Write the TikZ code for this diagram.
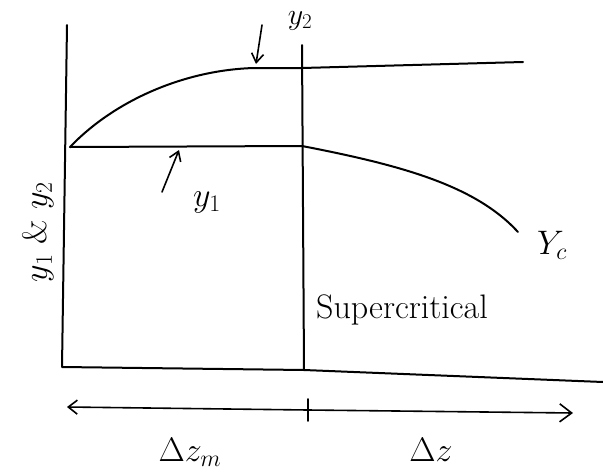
\RequirePackage{fix-cm}
\documentclass[tikz,border=0pt]{standalone}
\usetikzlibrary{arrows.meta}
\begin{document}
\begin{tikzpicture}[x=1pt,y=-1pt,
  ink/.style={line width=2pt,line cap=round,line join=round,black},
  thin ink/.style={line width=1.6pt,line cap=round,black},
  lbl/.style={font=\fontsize{34}{38}\selectfont,inner sep=0pt},
  slbl/.style={font=\fontsize{34}{38}\selectfont,inner sep=0pt},
  barb/.style={-{Straight Barb[length=9pt,width=12pt,line width=1.6pt]}}]
\useasboundingbox (0,0) rectangle (603,472);
% frame coordinates
\coordinate (lt) at (67,25);
\coordinate (lb) at (62,367);
\coordinate (mt) at (302,45);
\coordinate (mb) at (304,370);
\coordinate (br) at (603,382);
\coordinate (a) at (70,147);
\coordinate (b) at (254,68);
\coordinate (c) at (302,68);
\coordinate (d) at (523,62);
\coordinate (e) at (302,146);
\coordinate (f) at (518,232);
% axes
\draw[ink] (lt) -- (lb) -- (mb) -- (br);
\draw[ink] (mt) -- (mb);
% upper water surface y2
\draw[ink] (a) .. controls (115,100) and (185,70) .. (b) -- (c) -- (d);
% y1 line and falling surface
\draw[ink] (a) -- (e);
\draw[ink] (e) .. controls (400,165) and (475,185) .. (f);
% labels and pointer arrows
\node[lbl,font=\fontsize{30}{34}\selectfont,anchor=north] (y2) at (300,11) {$y_2$};
\coordinate (y2s) at (262,25);
\coordinate (y2e) at (256,64);
\draw[thin ink,barb] (y2s) -- (y2e);
\node[lbl] (y1) at (207,202) {$y_1$};
\coordinate (y1s) at (162,192);
\coordinate (y1e) at (179,150);
\draw[thin ink,barb] (y1s) -- (y1e);
\node[lbl] (yc) at (552,245) {$Y_c$};
\node[lbl,rotate=90] (ax) at (38,232) {$y_1$ \& $y_2$};
\node[slbl,anchor=west] (sc) at (316,310) {Supercritical};
% dimension arrows
\coordinate (p0) at (67,407);
\coordinate (p1) at (308,410);
\coordinate (p2) at (573,413);
\coordinate (t2) at (308,399);
\coordinate (t3) at (308,421);
\draw[thin ink,{Straight Barb[length=9pt,width=14pt,line width=1.6pt]}-] (p0) -- (p1);
\draw[thin ink,-{Straight Barb[length=12pt,width=18pt,line width=1.6pt]}] (p1) -- (p2);
\draw[thin ink] (t2) -- (t3);
\node[lbl] (dzm) at (190,452) {$\Delta z_m$};
\node[lbl] (dz) at (431,450) {$\Delta z$};
\end{tikzpicture}
\end{document}
